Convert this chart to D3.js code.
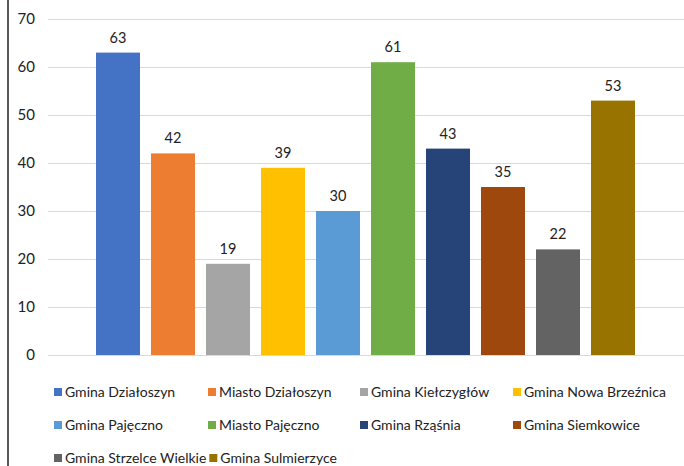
<!DOCTYPE html>
<html>
<head>
<meta charset="utf-8">
<script src="https://cdnjs.cloudflare.com/ajax/libs/d3/7.8.5/d3.min.js"></script>
<style>
  body { margin: 0; background: #fff; }
  svg { display: block; font-family: Lato, "Open Sans", sans-serif; }
</style>
</head>
<body>
<div id="chart"></div>
<script>
var categories = ['Gmina Działoszyn', 'Miasto Działoszyn', 'Gmina Kiełczygłów', 'Gmina Nowa Brzeźnica',
    'Gmina Pajęczno', 'Miasto Pajęczno', 'Gmina Rząśnia', 'Gmina Siemkowice',
    'Gmina Strzelce Wielkie', 'Gmina Sulmierzyce'];
var values = [63, 42, 19, 39, 30, 61, 43, 35, 22, 53];
var colors = ['#4472C4', '#ED7D31', '#A5A5A5', '#FFC000', '#5B9BD5', '#70AD47', '#264478', '#9E480E', '#636363', '#997300'];
var yTicks = [0, 10, 20, 30, 40, 50, 60, 70];

var width = 684, height = 466;

var svg = d3.select('#chart').append('svg')
    .attr('width', width)
    .attr('height', height);

// left border of the frame
svg.append('line')
    .attr('x1', 8).attr('x2', 8)
    .attr('y1', 0).attr('y2', height)
    .attr('stroke', '#222').attr('stroke-width', 1.5);

var x = d3.scaleBand()
    .domain(categories)
    .range([90.5, 640.5])
    .paddingInner(0.2)
    .paddingOuter(0.1);

var y = d3.scaleLinear()
    .domain([0, 70])
    .range([355, 19]);

// gridlines
svg.append('g').selectAll('line')
    .data(yTicks)
    .enter().append('line')
    .attr('x1', 48).attr('x2', 684)
    .attr('y1', function (d) { return Math.round(y(d)) + 0.5; })
    .attr('y2', function (d) { return Math.round(y(d)) + 0.5; })
    .attr('stroke', '#d9d9d9')
    .attr('stroke-width', 1.2);

// y labels
var yAxis = d3.axisLeft(y).tickValues(yTicks).tickSize(0).tickPadding(0);
var ya = svg.append('g')
    .attr('transform', 'translate(35,0)')
    .call(yAxis);
ya.select('.domain').remove();
ya.selectAll('text')
    .attr('font-family', 'Lato, "Open Sans", sans-serif')
    .attr('font-size', 15)
    .attr('fill', '#222');

// bars
svg.append('g').selectAll('rect')
    .data(values)
    .enter().append('rect')
    .attr('x', function (d, i) { return x(categories[i]); })
    .attr('y', function (d) { return y(d); })
    .attr('width', x.bandwidth())
    .attr('height', function (d) { return y(0) - y(d); })
    .attr('fill', function (d, i) { return colors[i]; });

// value labels
svg.append('g').selectAll('text')
    .data(values)
    .enter().append('text')
    .attr('x', function (d, i) { return x(categories[i]) + x.bandwidth() / 2; })
    .attr('y', function (d) { return y(d) - 10; })
    .attr('text-anchor', 'middle')
    .attr('font-size', 14.5)
    .attr('fill', '#222')
    .text(function (d) { return d; });

// legend, flowing into 4 columns
var colStarts = [54, 208, 360, 513];
var rowYs = [392, 425, 458];
var legend = svg.append('g');
var row = 0, col = 0, curX = colStarts[0];
categories.forEach(function (name, i) {
    if (col >= colStarts.length) {
        row++; col = 0; curX = colStarts[0];
    }
    var xPos = Math.max(colStarts[col], curX);
    var g = legend.append('g').attr('transform', 'translate(' + xPos + ',' + rowYs[row] + ')');
    g.append('rect')
        .attr('x', 0).attr('y', -4)
        .attr('width', 8).attr('height', 8)
        .attr('fill', colors[i]);
    var t = g.append('text')
        .attr('x', 11).attr('y', 5)
        .attr('font-size', 14)
        .attr('fill', '#222')
        .text(name);
    curX = xPos + 11 + t.node().getComputedTextLength() + 3;
    col++;
});
</script>
</body>
</html>
